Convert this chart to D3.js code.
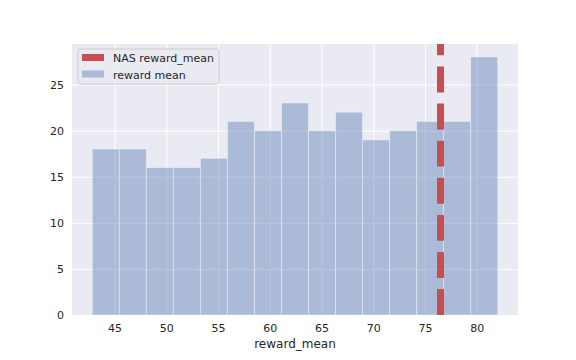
<!DOCTYPE html>
<html>
<head>
<meta charset="utf-8">
<script src="https://cdn.jsdelivr.net/npm/d3@7"></script>
<style>
  body { margin: 0; background: #fff; }
  text { font-family: "DejaVu Sans", sans-serif; fill: #262626; }
</style>
</head>
<body>
<svg width="576" height="360"></svg>
<script>
// histogram of reward_mean, 15 equal bins
const binCounts = [18, 18, 16, 16, 17, 21, 20, 23, 20, 22, 19, 20, 21, 21, 28];
const binRange = [42.84, 82.03];
const nasRewardMean = 76.5;
const xTicks = [45, 50, 55, 60, 65, 70, 75, 80];
const yTicks = [0, 5, 10, 15, 20, 25];
const legendLabels = ['NAS reward_mean', 'reward mean'];

const svg = d3.select('svg');
const width = +svg.attr('width');
const height = +svg.attr('height');
const margin = { top: 44, right: 58, bottom: 45, left: 72 };
const innerWidth = width - margin.left - margin.right;
const innerHeight = height - margin.top - margin.bottom;

const binWidth = (binRange[1] - binRange[0]) / binCounts.length;
const bins = binCounts.map((c, i) => ({
  x0: binRange[0] + i * binWidth,
  x1: binRange[0] + (i + 1) * binWidth,
  count: c
}));

// matplotlib-style 5% margins
const span = binRange[1] - binRange[0];
const xScale = d3.scaleLinear()
  .domain([binRange[0] - span * 0.05, binRange[1] + span * 0.05])
  .range([0, innerWidth]);

const yMax = d3.max(binCounts) * 1.05;
const yScale = d3.scaleLinear()
  .domain([0, yMax])
  .range([innerHeight, 0]);

const g = svg.append('g')
  .attr('transform', `translate(${margin.left},${margin.top})`);

g.append('rect')
  .attr('width', innerWidth)
  .attr('height', innerHeight)
  .attr('fill', '#eaeaf2');

const xAxis = d3.axisBottom(xScale)
  .tickValues(xTicks)
  .tickSize(-innerHeight)
  .tickPadding(9);
const yAxis = d3.axisLeft(yScale)
  .tickValues(yTicks)
  .tickSize(-innerWidth)
  .tickPadding(8);

const xAxisG = g.append('g')
  .attr('transform', `translate(0,${innerHeight})`)
  .call(xAxis);
const yAxisG = g.append('g').call(yAxis);

[xAxisG, yAxisG].forEach(ax => {
  ax.select('.domain').remove();
  ax.selectAll('.tick line').attr('stroke', '#fff').attr('stroke-width', 1);
  ax.selectAll('.tick text')
    .attr('font-size', 11)
    .attr('font-family', '"DejaVu Sans", sans-serif')
    .attr('fill', '#262626');
});

g.selectAll('.bar').data(bins)
  .enter().append('rect')
    .attr('class', 'bar')
    .attr('x', d => xScale(d.x0))
    .attr('y', d => yScale(d.count))
    .attr('width', d => xScale(d.x1) - xScale(d.x0))
    .attr('height', d => innerHeight - yScale(d.count))
    .attr('fill', '#4c72b0')
    .attr('fill-opacity', 0.4)
    .attr('stroke', '#fff')
    .attr('stroke-opacity', 0.4)
    .attr('stroke-width', 1);

g.append('defs').append('clipPath').attr('id', 'clip')
  .append('rect').attr('width', innerWidth).attr('height', innerHeight);

g.append('line')
  .attr('clip-path', 'url(#clip)')
  .attr('x1', xScale(nasRewardMean))
  .attr('x2', xScale(nasRewardMean))
  .attr('y1', innerHeight)
  .attr('y2', 0)
  .attr('stroke', '#c44e52')
  .attr('stroke-width', 7)
  .attr('stroke-dasharray', '25.9,11.2');

g.append('text')
  .attr('x', innerWidth / 2)
  .attr('y', innerHeight + 33)
  .attr('text-anchor', 'middle')
  .attr('font-size', 12)
  .text('reward_mean');

// legend
const legend = g.append('g').attr('transform', 'translate(6,5)');
legend.append('rect')
  .attr('width', 141)
  .attr('height', 35)
  .attr('rx', 3)
  .attr('fill', '#eaeaf2')
  .attr('fill-opacity', 0.8)
  .attr('stroke', '#cccccc')
  .attr('stroke-width', 1);

const legendColors = [['#c44e52', 1], ['#4c72b0', 0.4]];
const item = legend.selectAll('.item').data(legendLabels)
  .enter().append('g')
    .attr('class', 'item')
    .attr('transform', (d, i) => `translate(4,${5 + i * 16.5})`);
item.append('rect')
  .attr('width', 22)
  .attr('height', 7)
  .attr('fill', (d, i) => legendColors[i][0])
  .attr('fill-opacity', (d, i) => legendColors[i][1]);
item.append('text')
  .attr('x', 31)
  .attr('y', 8)
  .attr('font-size', 11)
  .text(d => d);
</script>
</body>
</html>
